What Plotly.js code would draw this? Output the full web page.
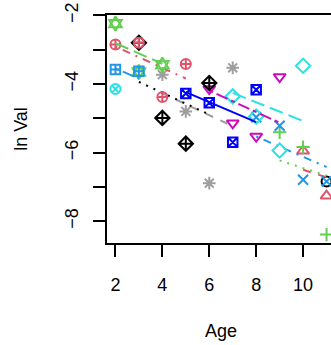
<!DOCTYPE html>
<html><head><meta charset="utf-8">
<script src="https://cdn.plot.ly/plotly-3.0.1.min.js"></script>
<style>html,body{margin:0;padding:0;overflow:hidden;background:#fff}</style>
</head><body><div id="chart"></div>
<script>
// Cohort data (Age vs ln Val), one cohort per marker style
const age01 = [11];            const ln01 = [-6.84];
const age02 = [10, 11];        const ln02 = [-5.95, -7.26];
const fit02 = [-6.50, -6.72];
const age03 = [9, 10, 11];     const ln03 = [-5.41, -5.84, -8.39];
const fit03 = [-6.23, -6.45, -6.67];
const age04 = [8, 9, 10, 11];  const ln04 = [-4.97, -5.22, -6.79, -6.84];
const fit04 = [-5.53, -5.83, -6.12, -6.42];
const age05 = [7, 8, 9, 10];   const ln05 = [-4.36, -4.95, -5.94, -3.47];
const fit05 = [-4.26, -4.53, -4.80, -5.08];
const age06 = [6, 7, 8, 9];    const ln06 = [-4.14, -5.14, -5.53, -3.79];
const fit06 = [-4.19, -4.50, -4.82, -5.13];
const age07 = [5, 6, 7, 8];    const ln07 = [-4.28, -4.55, -5.70, -4.17];
const fit07 = [-4.24, -4.53, -4.82, -5.11];
const age08 = [4, 5, 6, 7];    const ln08 = [-3.73, -4.80, -6.89, -3.53];
const fit08 = [-4.27, -4.59, -4.91, -5.23];
const age09 = [3, 4, 5, 6];    const ln09 = [-2.80, -4.99, -5.74, -3.97];
const fit09 = [-3.94, -4.26, -4.57, -4.89];
const age10 = [2, 3, 4, 5];    const ln10 = [-2.85, -2.80, -4.38, -3.42];
const fit10 = [-2.91, -3.22, -3.53, -3.84];
const age11 = [2, 3, 4];       const ln11 = [-2.24, -3.65, -3.44];
const fit11 = [-2.81, -3.11, -3.41];
const age12 = [2, 3];          const ln12 = [-3.58, -3.63];
const fit12 = [-3.55, -3.84];
const age13 = [2];             const ln13 = [-4.15];

const xTicks = [2, 4, 6, 8, 10];
const yTicks = [-8, -7, -6, -5, -4, -3, -2];
const yTickText = ['\u22128', '', '\u22126', '', '\u22124', '', '\u22122'];

const C = {black:'#000000', red:'#DF536B', green:'#61D04F', lblue:'#2297E6',
           cyan:'#28E2E5', mag:'#CD0BBC', blue:'#0000FF', gray:'#9E9E9E'};
const DASH = {solid:'solid', lty2:'8px,8px', lty3:'2px,6px', lty4:'2px,6px,8px,6px',
              lty5:'14px,6px', lty6:'4px,4px,12px,4px'};

const cohorts = [
  {x:age01, y:ln01, fit:null,  col:C.black, sym:['circle-open'], size:10},
  {x:age02, y:ln02, fit:fit02, col:C.red,   sym:['triangle-up-open'], size:10.5, dash:DASH.lty2},
  {x:age03, y:ln03, fit:fit03, col:C.green, sym:['cross-thin-open'], size:9.5, dash:DASH.lty3},
  {x:age04, y:ln04, fit:fit04, col:C.lblue, sym:['x-thin-open'], size:10, dash:DASH.lty4},
  {x:age05, y:ln05, fit:fit05, col:C.cyan,  sym:['diamond-open'], size:11, dash:DASH.lty5},
  {x:age06, y:ln06, fit:fit06, col:C.mag,   sym:['triangle-down-open'], size:10.5, dash:DASH.lty6},
  {x:age07, y:ln07, fit:fit07, col:C.blue,  sym:['square-x-open'], size:9.5, dash:DASH.solid},
  {x:age08, y:ln08, fit:fit08, col:C.gray,  sym:['asterisk-open'], size:10.5, dash:DASH.lty2},
  {x:age09, y:ln09, fit:fit09, col:C.black, sym:['diamond-cross-open'], size:11, dash:DASH.lty3},
  {x:age10, y:ln10, fit:fit10, col:C.red,   sym:['circle-cross-open'], size:10, dash:DASH.lty4},
  {x:age11, y:ln11, fit:fit11, col:C.green, sym:['hexagram-open','hexagon2-open'], size:11, dash:DASH.lty5},
  {x:age12, y:ln12, fit:fit12, col:C.lblue, sym:['square-cross-open'], size:9.5, dash:DASH.lty6},
  {x:age13, y:ln13, fit:null,  col:C.cyan,  sym:['circle-x-open'], size:10}
];

const traces = [];
cohorts.forEach(c => {
  if (c.fit) {
    traces.push({x:c.x, y:c.fit, mode:'lines', type:'scatter', hoverinfo:'skip',
      line:{color:c.col, width:2, dash:c.dash}});
  }
  c.sym.forEach((s, i) => {
    traces.push({x:c.x, y:c.y, mode:'markers', type:'scatter',
      marker:{symbol:s, size: i === 0 ? c.size : c.size * 0.76, color:c.col,
              line:{color:c.col, width:2}}});
  });
});

const layout = {
  width: 336, height: 345,
  margin: {l:107, r:1, t:15, b:102, pad:0},
  paper_bgcolor:'#ffffff', plot_bgcolor:'#ffffff',
  showlegend:false,
  font:{family:'Liberation Sans, Arial, Helvetica, sans-serif', size:18, color:'#000000'},
  xaxis:{range:[1.64, 11.36], tickmode:'array', tickvals:xTicks, ticktext:xTicks.map(String),
    ticks:'outside', ticklen:12, tickwidth:2, tickcolor:'#000', ticklabelstandoff:12,
    showline:true, linewidth:2, linecolor:'#000', mirror:true,
    showgrid:false, zeroline:false, automargin:false,
    title:{text:'Age', standoff:31, font:{size:18}}},
  yaxis:{range:[-8.635, -1.99], tickmode:'array', tickvals:yTicks, ticktext:yTickText,
    tickangle:-90, ticks:'outside', ticklen:12, tickwidth:2, tickcolor:'#000', ticklabelstandoff:8,
    showline:true, linewidth:2, linecolor:'#000', mirror:false,
    showgrid:false, zeroline:false, automargin:false,
    title:{text:'ln Val', standoff:29, font:{size:18}}}
};

Plotly.newPlot('chart', traces, layout, {staticPlot:true, displayModeBar:false});
</script></body></html>
